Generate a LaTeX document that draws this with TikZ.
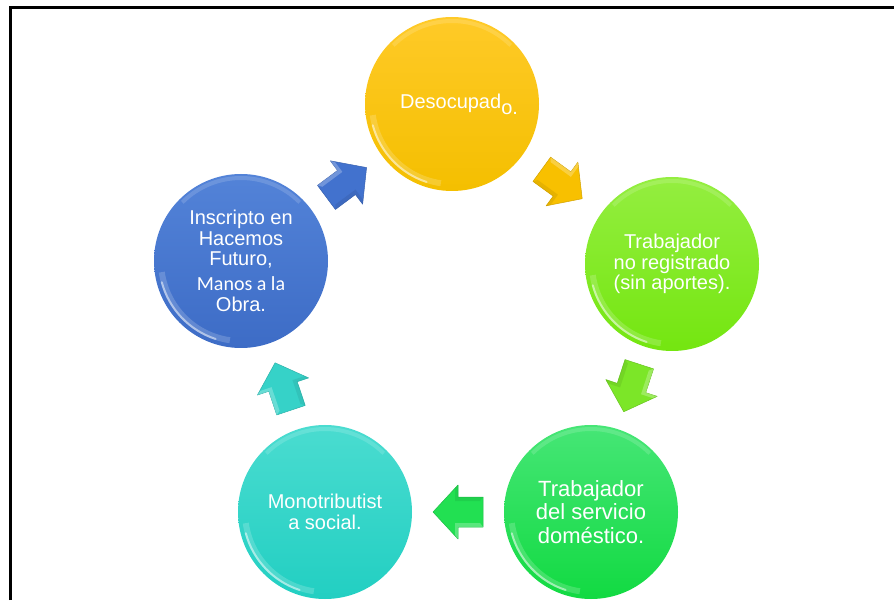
\documentclass[tikz,border=0pt]{standalone}
\usepackage{fontspec}
\setmainfont{Liberation Sans}
\newfontfamily\calibrifont{Carlito}
\usetikzlibrary{calc}
\definecolor{cyellowA}{HTML}{FFCA28}
\definecolor{cyellowB}{HTML}{F4BF00}
\definecolor{cgreenA}{HTML}{94EE40}
\definecolor{cgreenB}{HTML}{74E610}
\definecolor{cbgreenA}{HTML}{46E676}
\definecolor{cbgreenB}{HTML}{12DA42}
\definecolor{ctealA}{HTML}{4ADCD0}
\definecolor{ctealB}{HTML}{22CFC2}
\definecolor{cblueA}{HTML}{5383D8}
\definecolor{cblueB}{HTML}{3D6CC6}
\definecolor{ayellow}{HTML}{F8C000}
\definecolor{agreen}{HTML}{7CE628}
\definecolor{abgreen}{HTML}{22E052}
\definecolor{ateal}{HTML}{36D2C8}
\definecolor{ablue}{HTML}{4272CE}
\tikzset{
  bubble/.style={circle, minimum size=174pt, inner sep=0pt, text=white, align=center,
    font=\fontsize{20}{20.5}\selectfont},
  frameline/.style={black, line width=2.2pt}
}
\newcommand\cyclearrow[3]{%
  \path let \p1=($(#2)-(#1)$), \n1={atan2(\y1,\x1)} in \pgfextra{\xdef\arrang{\n1}};
  \begin{scope}[shift={($(#1)!0.5!(#2)$)}, rotate=\arrang]
    \filldraw[fill=#3, draw=#3!85!black, line width=0.5pt, line join=round]
      (-25,-15) -- (0,-15) -- (0,-27) -- (25,0) -- (0,27) -- (0,15) -- (-25,15) -- cycle;
    \fill[#3!80!black, opacity=0.35] (-25,-15) -- (0,-15) -- (0,-27) -- (3,-24) -- (3,-11) -- (-22,-11) -- cycle;
    \fill[white, opacity=0.25] (-25,15) -- (0,15) -- (0,27) -- (3,23) -- (3,11) -- (-22,11) -- cycle;
  \end{scope}}
\newcommand\glossarc[1]{%
  \draw[white, opacity=0.18, line width=6pt] ($(#1)+(188:80)$) arc (188:262:80);
  \draw[white, opacity=0.5, line width=2pt, line cap=round] ($(#1)+(195:82)$) arc (195:252:82);
  \draw[white, opacity=0.15, line width=4pt] ($(#1)+(45:83)$) arc (45:135:83);}
\begin{document}
\begin{tikzpicture}[x=1pt,y=1pt]
\useasboundingbox (0,0) rectangle (894,600);
\coordinate (ftl) at (10.5,592.5);
\coordinate (ftr) at (894,592.5);
\coordinate (fbl) at (10.5,0);
\draw[frameline] (fbl) -- (ftl) -- (ftr);

\node[bubble, top color=cyellowA, bottom color=cyellowB] (des) at (452,496) {};
\node[text=white, font=\fontsize{20}{20.5}\selectfont] (destext) at (459,496)
  {Desocupad\raisebox{-6pt}{o.}};
\node[bubble, top color=cgreenA, bottom color=cgreenB] (noreg) at (672,336)
  {Trabajador\\no registrado\\(sin aportes).};
\node[bubble, top color=cbgreenA, bottom color=cbgreenB,
  font=\fontsize{22}{23.5}\selectfont] (dom) at (591,88)
  {Trabajador\\del servicio\\doméstico.};
\node[bubble, top color=ctealA, bottom color=ctealB] (mono) at (325,88)
  {Monotributist\\a social.};
\node[bubble, top color=cblueA, bottom color=cblueB] (insc) at (241,339)
  {Inscripto en\\Hacemos\\Futuro,\\[4.5pt]\calibrifont Manos a la\\Obra.};

\glossarc{des}
\glossarc{noreg}
\glossarc{dom}
\glossarc{mono}
\glossarc{insc}

\cyclearrow{insc}{des}{ablue}
\cyclearrow{des}{noreg}{ayellow}
\cyclearrow{noreg}{dom}{agreen}
\cyclearrow{dom}{mono}{abgreen}
\cyclearrow{mono}{insc}{ateal}
\end{tikzpicture}
\end{document}
